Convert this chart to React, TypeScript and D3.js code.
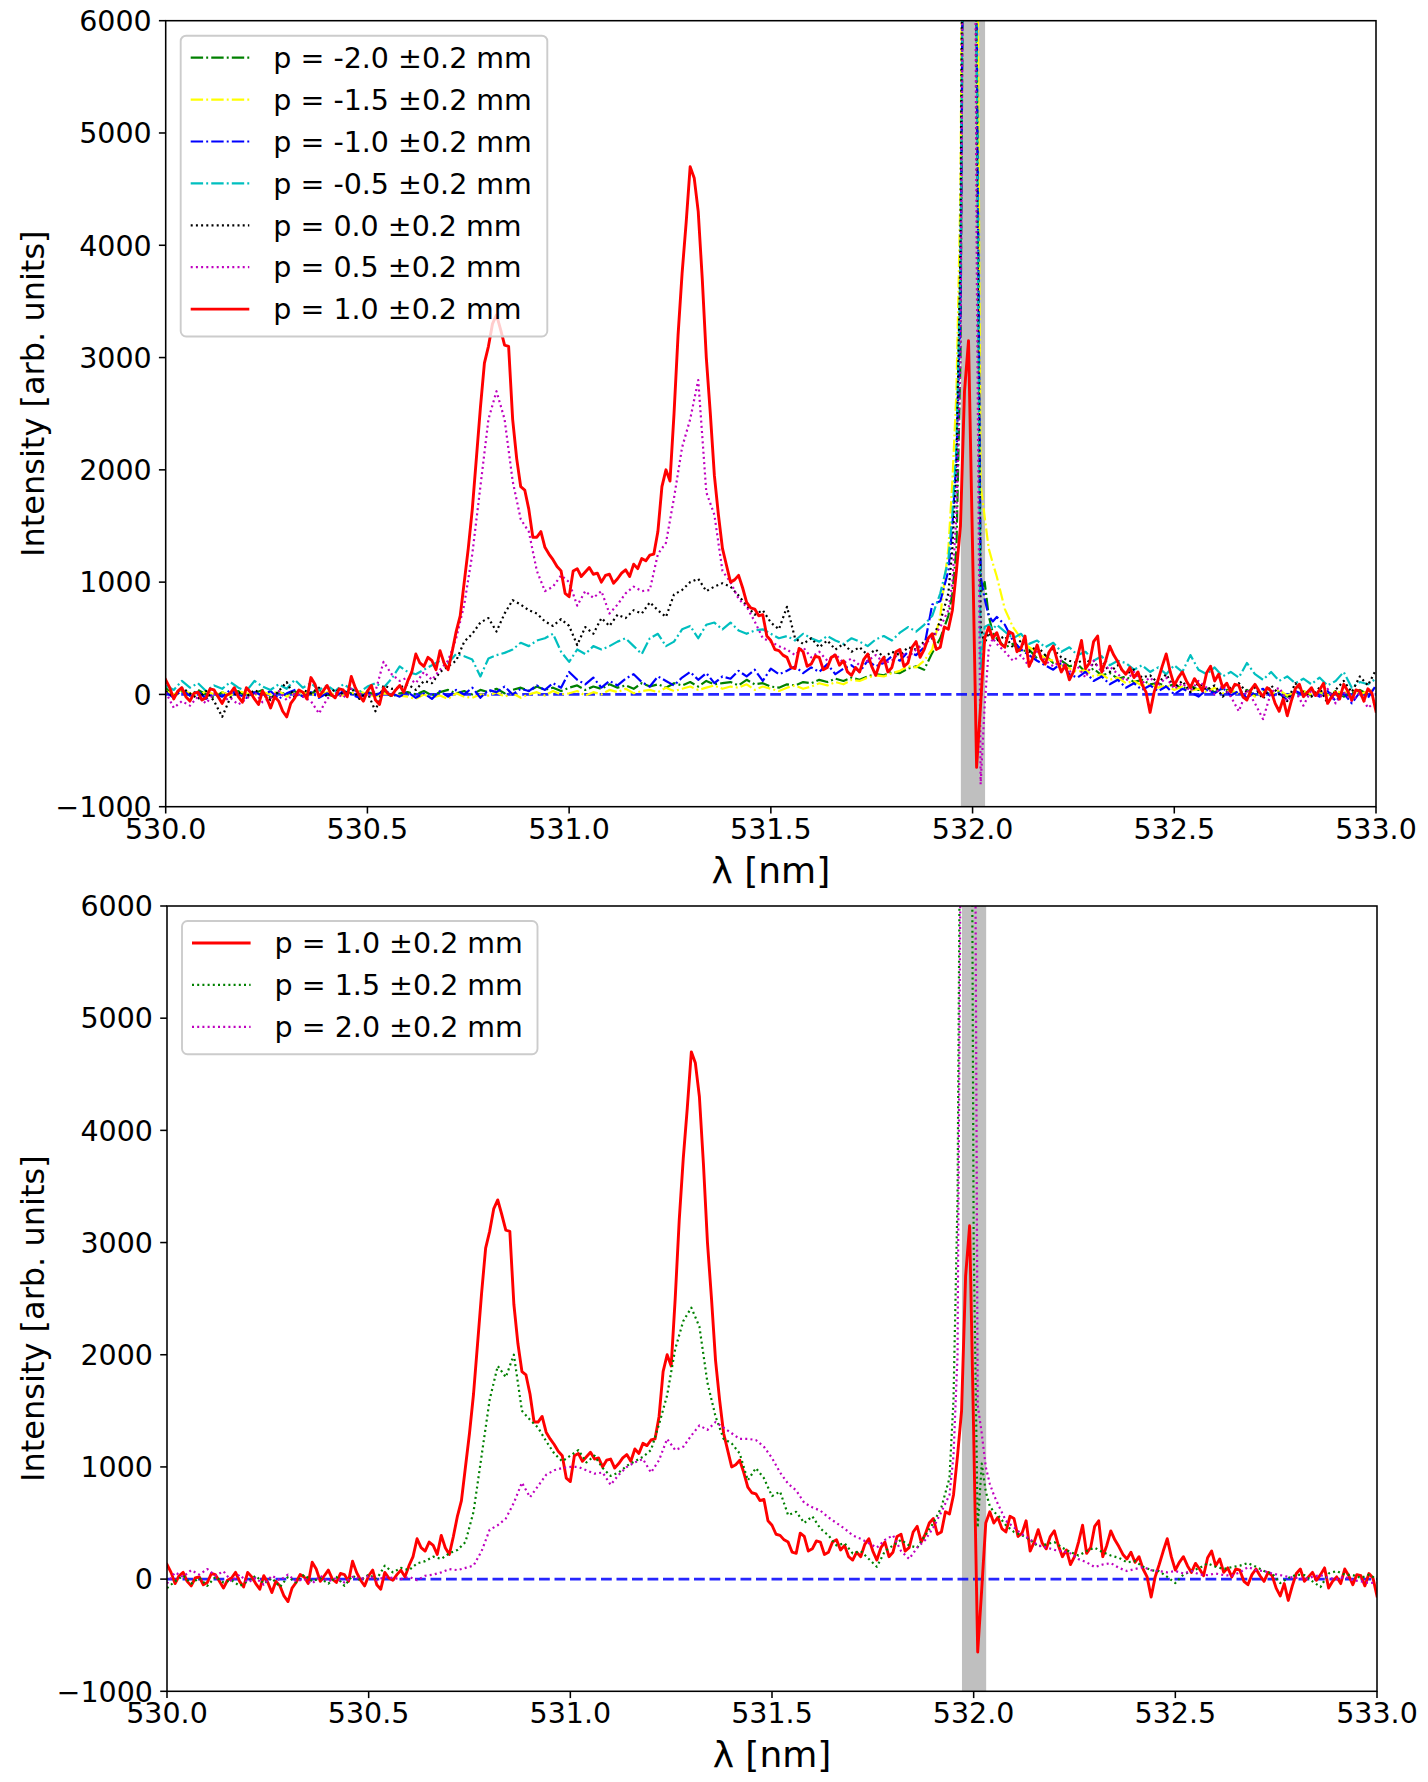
import React from 'react';
import * as d3 from 'd3';

// ---------- data ----------
// coarse wavelength grid shared by most spectra (finer around the 532 nm laser line)
const WL = [
  530.00, 530.02, 530.04, 530.06, 530.08, 530.10, 530.12, 530.14, 530.16, 530.18,
  530.20, 530.22, 530.24, 530.26, 530.28, 530.30, 530.32, 530.34, 530.36, 530.38,
  530.40, 530.42, 530.44, 530.46, 530.48, 530.50, 530.52, 530.54, 530.56, 530.58,
  530.60, 530.62, 530.64, 530.66, 530.68, 530.70, 530.72, 530.74, 530.76, 530.78,
  530.80, 530.82, 530.84, 530.86, 530.88, 530.90, 530.92, 530.94, 530.96, 530.98,
  531.00, 531.02, 531.04, 531.06, 531.08, 531.10, 531.12, 531.14, 531.16, 531.18,
  531.20, 531.22, 531.24, 531.26, 531.28, 531.30, 531.32, 531.34, 531.36, 531.38,
  531.40, 531.42, 531.44, 531.46, 531.48, 531.50, 531.52, 531.54, 531.56, 531.58,
  531.60, 531.62, 531.64, 531.66, 531.68, 531.70, 531.72, 531.74, 531.76, 531.78,
  531.80, 531.82, 531.84, 531.86, 531.88, 531.90, 531.92, 531.94,
  531.95, 531.96, 531.97, 531.98, 531.99, 532.00, 532.01, 532.02, 532.03, 532.04, 532.05,
  532.06, 532.08, 532.10, 532.12, 532.14, 532.16, 532.18, 532.20, 532.22, 532.24,
  532.26, 532.28, 532.30, 532.32, 532.34, 532.36, 532.38, 532.40, 532.42, 532.44,
  532.46, 532.48, 532.50, 532.52, 532.54, 532.56, 532.58, 532.60, 532.62, 532.64,
  532.66, 532.68, 532.70, 532.72, 532.74, 532.76, 532.78, 532.80, 532.82, 532.84,
  532.86, 532.88, 532.90, 532.92, 532.94, 532.96, 532.98, 533.00,
];

// fine wavelength grid used by the p = 1.0 mm spectrum
const WL_FINE = [
  530.00, 530.01, 530.02, 530.03, 530.04, 530.05, 530.06, 530.07, 530.08, 530.09,
  530.10, 530.11, 530.12, 530.13, 530.14, 530.15, 530.16, 530.17, 530.18, 530.19,
  530.20, 530.21, 530.22, 530.23, 530.24, 530.25, 530.26, 530.27, 530.28, 530.29,
  530.30, 530.31, 530.32, 530.33, 530.34, 530.35, 530.36, 530.37, 530.38, 530.39,
  530.40, 530.41, 530.42, 530.43, 530.44, 530.45, 530.46, 530.47, 530.48, 530.49,
  530.50, 530.51, 530.52, 530.53, 530.54, 530.55, 530.56, 530.57, 530.58, 530.59,
  530.60, 530.61, 530.62, 530.63, 530.64, 530.65, 530.66, 530.67, 530.68, 530.69,
  530.70, 530.71, 530.72, 530.73, 530.74, 530.75, 530.76, 530.77, 530.78, 530.79,
  530.80, 530.81, 530.82, 530.83, 530.84, 530.85, 530.86, 530.87, 530.88, 530.89,
  530.90, 530.91, 530.92, 530.93, 530.94, 530.95, 530.96, 530.97, 530.98, 530.99,
  531.00, 531.01, 531.02, 531.03, 531.04, 531.05, 531.06, 531.07, 531.08, 531.09,
  531.10, 531.11, 531.12, 531.13, 531.14, 531.15, 531.16, 531.17, 531.18, 531.19,
  531.20, 531.21, 531.22, 531.23, 531.24, 531.25, 531.26, 531.27, 531.28, 531.29,
  531.30, 531.31, 531.32, 531.33, 531.34, 531.35, 531.36, 531.37, 531.38, 531.39,
  531.40, 531.41, 531.42, 531.43, 531.44, 531.45, 531.46, 531.47, 531.48, 531.49,
  531.50, 531.51, 531.52, 531.53, 531.54, 531.55, 531.56, 531.57, 531.58, 531.59,
  531.60, 531.61, 531.62, 531.63, 531.64, 531.65, 531.66, 531.67, 531.68, 531.69,
  531.70, 531.71, 531.72, 531.73, 531.74, 531.75, 531.76, 531.77, 531.78, 531.79,
  531.80, 531.81, 531.82, 531.83, 531.84, 531.85, 531.86, 531.87, 531.88, 531.89,
  531.90, 531.91, 531.92, 531.93, 531.94, 531.95, 531.96, 531.97, 531.98, 531.99,
  532.00, 532.01, 532.02, 532.03, 532.04, 532.05, 532.06, 532.07, 532.08, 532.09,
  532.10, 532.11, 532.12, 532.13, 532.14, 532.15, 532.16, 532.17, 532.18, 532.19,
  532.20, 532.21, 532.22, 532.23, 532.24, 532.25, 532.26, 532.27, 532.28, 532.29,
  532.30, 532.31, 532.32, 532.33, 532.34, 532.35, 532.36, 532.37, 532.38, 532.39,
  532.40, 532.41, 532.42, 532.43, 532.44, 532.45, 532.46, 532.47, 532.48, 532.49,
  532.50, 532.51, 532.52, 532.53, 532.54, 532.55, 532.56, 532.57, 532.58, 532.59,
  532.60, 532.61, 532.62, 532.63, 532.64, 532.65, 532.66, 532.67, 532.68, 532.69,
  532.70, 532.71, 532.72, 532.73, 532.74, 532.75, 532.76, 532.77, 532.78, 532.79,
  532.80, 532.81, 532.82, 532.83, 532.84, 532.85, 532.86, 532.87, 532.88, 532.89,
  532.90, 532.91, 532.92, 532.93, 532.94, 532.95, 532.96, 532.97, 532.98, 532.99,
  533.00,
];

// p = -2.0 mm
const P_M20 = [
  60, -20, 30, -10, 40, 0, -30, 20, -10, 30,
  -20, 10, 40, -30, 20, 0, 30, -20, 10, 40,
  0, -20, 30, 10, -10, 20, 0, 30, -20, 10,
  20, 0, 30, -10, 20, 40, 10, 30, 0, 40,
  20, 50, 10, 40, 60, 30, 70, 40, 60, 30,
  60, 80, 40, 70, 50, 90, 60, 80, 50, 100,
  70, 90, 60, 100, 80, 110, 70, 120, 90, 100,
  110, 80, 130, 90, 100, 70, 60, 90, 80, 110,
  100, 130, 110, 140, 120, 150, 130, 160, 180, 170,
  200, 190, 230, 250, 220, 370, 500, 700,
  900, 1300, 3000, 9000, 15000, 12000, 6000, 900, 1000, 700, 550,
  500, 420, 450, 380, 400, 320, 350, 280, 300, 250,
  270, 200, 230, 170, 190, 140, 160, 110, 130, 90,
  100, 70, 90, 50, 80, 40, 60, 20, 50, 30,
  10, 40, -10, 30, 0, 20, -20, 10, 30, -10,
  20, 0, 30, -20, 10, 40, 0, 20,
];

// p = -1.5 mm
const P_M15 = [
  30, 0, 40, 10, -20, 30, 0, 20, -10, 30,
  10, -10, 20, 0, 30, -20, 10, 20, 0, -10,
  20, 0, -10, 10, 30, 0, -20, 10, 0, -10,
  -20, -40, 0, -30, -10, -40, 10, -20, -30, 0,
  -10, 20, -20, 10, -30, 0, 20, -10, 30, 0,
  10, 30, -10, 20, 0, 40, 20, 50, 10, 30,
  40, 20, 60, 30, 50, 70, 40, 60, 80, 50,
  70, 60, 90, 40, 70, 50, 30, 60, 80, 50,
  70, 100, 80, 110, 90, 130, 120, 150, 170, 160,
  190, 210, 250, 240, 300, 400, 700, 1300,
  1900, 2700, 4500, 10000, 16000, 13000, 8000, 1860, 1580, 1300, 1170,
  1050, 760, 600, 500, 420, 380, 320, 300, 260, 230,
  200, 220, 160, 180, 130, 150, 100, 120, 80, 90,
  60, 80, 40, 70, 30, 50, 20, 60, 10, 40,
  0, 30, -20, 20, 0, 40, -10, 20, 30, 0,
  20, -10, 30, 10, 40, 0, 30, 50,
];

// p = -1.0 mm
const P_M10 = [
  20, -30, 40, -10, 30, -40, 10, -20, 40, 0,
  -30, 20, -10, 30, -40, 10, 40, -20, 20, -30,
  10, -20, 30, 0, -30, 20, -10, 30, 10, -20,
  20, -30, 10, -40, 30, -20, 40, 0, 60, -30,
  40, 20, 70, 0, 50, 30, 80, 40, 100, 60,
  200, 130, 90, 150, 60, 120, 80, 140, 180, 110,
  70, 160, 120, 80, 150, 200, 130, 190, 100, 160,
  140, 210, 160, 220, 120, 230, 180, 210, 250, 190,
  240, 200, 270, 180, 230, 260, 200, 300, 250, 280,
  340, 300, 380, 350, 420, 800, 830, 1100,
  1500, 2100, 3400, 9000, 15000, 12000, 6000, 1050, 850, 700, 650,
  690, 620, 480, 400, 350, 300, 260, 220, 280, 180,
  150, 200, 120, 160, 90, 130, 60, 100, 40, 80,
  30, 70, 0, 50, 20, -20, 40, 10, 60, -10,
  30, -30, 20, 50, -20, 10, -50, 30, 0, 40,
  -20, 30, -60, 10, -80, 20, -30, 80,
];

// p = -0.5 mm
const P_M05 = [
  80, 40, 120, 60, 100, 30, 80, 50, 110, 60,
  30, 120, 70, 40, 90, 50, 130, 60, 100, 40,
  80, 30, 90, 50, 20, 70, 100, 60, 140, 250,
  200, 180, 220, 260, 300, 280, 360, 340, 310, 160,
  320, 350, 370, 400, 460, 430, 480, 500, 540, 380,
  290, 400, 360, 430, 400, 430, 470, 500, 430, 360,
  500, 540, 430, 470, 580, 610, 500, 620, 640, 580,
  640, 570, 540, 570, 580, 540, 500, 520, 480, 540,
  500, 470, 520, 480, 450, 500, 470, 430, 490, 520,
  480, 550, 600, 560, 620, 700, 900, 1200,
  1600, 2200, 3800, 9000, 15000, 12000, 6000, 230, 600, 620, 580,
  620, 560, 500, 540, 450, 480, 420, 460, 380, 420,
  350, 380, 300, 340, 260, 300, 280, 220, 260, 200,
  240, 180, 260, 200, 350, 220, 180, 240, 160, 200,
  150, 280, 180, 130, 200, 120, 160, 100, 140, 90,
  150, 80, 120, 200, 60, 110, 90, 140,
];

// p = 0.0 mm
const P_00 = [
  30, -20, 60, 10, -40, 30, -60, -200, -30, 20,
  -20, 40, 0, -50, 30, 110, -30, 40, 10, 60,
  -20, 50, 0, 60, -40, 20, -150, 80, 50, 60,
  90, 40, 120, 100, 200, 250, 300, 470, 540, 640,
  680, 560, 720, 840, 800, 750, 720, 650, 610, 670,
  610, 440, 600, 540, 680, 610, 710, 680, 750, 720,
  820, 750, 690, 890, 930, 1000, 1030, 920, 960, 990,
  960, 880, 790, 710, 750, 640, 580, 780, 500, 450,
  500, 420, 480, 400, 450, 380, 420, 350, 400, 330,
  380, 350, 420, 400, 470, 500, 650, 900,
  1300, 2000, 4000, 10000, 16000, 12000, 5000, 600, 450, 550, 500,
  480, 520, 420, 480, 380, 430, 350, 400, 330, 300,
  280, 320, 250, 300, 200, 260, 180, 220, 150, 170,
  100, 180, 60, 120, 20, 100, 40, 80, -20, 60,
  100, 20, 60, -40, 80, 0, -60, 100, 20, -20,
  60, -80, 40, 120, 20, 160, 80, 220,
];

// p = 0.5 mm
const P_05 = [
  20, -120, -60, -100, -20, -80, 10, -60, -30, -90,
  -40, 20, -70, -30, 30, -50, 10, -20, -60, -170,
  -40, 20, -30, 50, 10, -20, 30, 290, 180, 120,
  150, 100, 200, 130, 220, 300, 500, 800, 1250, 1850,
  2450, 2700, 2450, 1900, 1560, 1450, 1100, 920, 960, 1060,
  1000, 790, 920, 860, 920, 720, 800, 900, 960, 920,
  930, 1250, 1350, 1750, 2200, 2450, 2800, 1800, 1600, 1100,
  1000, 850, 780, 650, 500, 470, 430, 400, 350, 420,
  330, 380, 300, 360, 280, 320, 260, 300, 350, 280,
  300, 380, 330, 400, 450, 500, 600, 750,
  1000, 1600, 3000, 9000, 15000, 12000, 4000, -800, -100, 400, 500,
  450, 380, 300, 350, 250, 380, 300, 250, 300, 200,
  250, 150, 300, 200, 250, 180, 120, 200, 100, 150,
  80, 150, 50, 100, 30, 120, 60, 0, 80, -20,
  -150, 40, -80, -220, 20, 60, -60, 30, -100, 40,
  -30, 50, -80, 20, -60, 10, -120, -60,
];

// p = 1.0 mm (both panels), on WL_FINE
const P_10 = [
  130, 60, -40, 30, 60, -20, -60, 10, 20, -50,
  -30, 50, 40, -20, -80, -10, 10, 60, -20, -70,
  60, 20, -40, -90, 30, -30, -120, -20, -60, -150,
  -200, -80, -30, 40, 20, -40, 150, 90, -20, 30,
  80, 0, -30, 50, 40, -20, 160, 60, -10, -60,
  30, 80, -50, -90, 60, 10, -10, 40, 80, 20,
  120, 200, 360, 280, 250, 330, 300, 220, 390, 280,
  220, 380, 560, 700, 1000, 1300, 1650, 2100, 2550, 2950,
  3100, 3300, 3380, 3250, 3110, 3100, 2450, 2100, 1850, 1820,
  1650, 1400, 1400, 1450, 1310, 1250, 1200, 1140, 1100, 900,
  870, 1100, 1120, 1050, 1090, 1130, 1070, 1080, 1000, 1060,
  1070, 990, 1030, 1080, 1110, 1050, 1160, 1120, 1210, 1190,
  1240, 1250, 1450, 1850, 2000, 1900, 2500, 3200, 3750, 4200,
  4700, 4600, 4300, 3700, 3000, 2500, 1950, 1600, 1300, 1150,
  1000, 1020, 1060, 950, 820, 770, 760, 700, 710, 520,
  480, 400, 390, 350, 330, 240, 230, 410, 380, 250,
  270, 340, 330, 220, 240, 330, 350, 260, 300, 200,
  170, 240, 200, 310, 360, 250, 170, 280, 330, 200,
  240, 380, 400, 250, 280, 420, 470, 330, 400, 500,
  540, 400, 420, 600, 580, 750, 1100, 1500, 2700, 3150,
  1300, -650, -90, 500, 600, 500, 550, 450, 420, 560,
  540, 380, 410, 520, 250, 330, 440, 320, 270, 380,
  430, 300, 200, 260, 130, 200, 330, 480, 230, 280,
  470, 520, 200, 300, 430, 350, 290, 220, 180, 240,
  150, 200, 90, 20, -160, 20, 130, 250, 360, 200,
  80, 150, 200, 120, 60, 140, 90, 30, 190, 250,
  120, 180, 60, 100, 20, 90, 80, -20, -50, 40,
  90, 30, -20, 60, 30, -80, -150, -40, -190, -60,
  50, 90, -20, 20, 60, -10, 40, 100, -80, -20,
  20, -40, 90, 30, -50, 40, 30, -60, 50, 10,
  -150,
];

// p = 1.5 mm
const P_15 = [
  -80, -20, 30, -40, 10, -60, 20, -30, -10, -60,
  -20, 30, -40, 10, -70, 20, -30, 40, -20, 10,
  -40, 20, -60, 30, -10, 40, 0, 120, 60, 100,
  80, 140, 160, 200, 180, 230, 260, 330, 600, 1100,
  1600, 1900, 1800, 2000, 1500, 1420, 1350, 1230, 1120, 1050,
  1100, 1150, 1040, 1100, 990, 920, 950, 1010, 1050, 1090,
  1150, 1380, 1640, 2050, 2300, 2420, 2250, 1750, 1450, 1250,
  1210, 1120, 880, 990, 900, 740, 780, 570, 600, 500,
  560, 450, 390, 300, 320, 230, 250, 180, 110, 250,
  300, 350, 300, 280, 390, 500, 640, 900,
  1600, 3400, 9000, 15000, 12000, 3000, 460, 1030, 780, 650, 600,
  570, 480, 420, 390, 350, 290, 310, 330, 280, 240,
  210, 250, 280, 240, 210, 190, 150, 160, 110, 80,
  70, 20, -35, 40, 70, 100, 140, 110, 90, 107,
  120, 143, 110, 72, 50, -35, 10, 40, 36, -20,
  -70, 50, 72, 40, 36, 10, 40, 0,
];

// p = 2.0 mm
const P_20 = [
  -40, 60, 20, 80, 40, 90, 30, 70, -20, 40,
  -30, 10, -50, 30, -10, 40, -20, 0, -40, 30,
  -20, 10, -30, 20, 0, 30, -10, 20, 10, 0,
  20, -10, 30, 40, 60, 90, 80, 100, 120, 250,
  440, 480, 540, 680, 860, 730, 830, 930, 970, 990,
  1000, 1000, 970, 940, 950, 840, 930, 1000, 1040, 1070,
  950, 1060, 1250, 1150, 1180, 1280, 1370, 1330, 1400, 1350,
  1300, 1250, 1250, 1240, 1180, 1080, 950, 850, 790, 680,
  640, 610, 550, 500, 450, 390, 360, 320, 280, 350,
  390, 250, 180, 280, 350, 460, 600, 750,
  1100, 2000, 8000, 14000, 16000, 10000, 1550, 1300, 1000, 850, 750,
  670, 520, 460, 400, 354, 300, 283, 260, 248, 230,
  178, 150, 107, 130, 143, 100, 72, 90, 107, 80,
  72, 60, 72, 50, 72, 40, 36, 50, 36, 30,
  60, 107, 80, 72, 50, 36, 20, 10, 0, 20,
  36, 10, 0, 20, -10, -20, -35, -30,
];

const ZERO_X = [530, 533];
const ZERO_Y = [0, 0];
const BAND = [531.971, 532.031];

const X_DOMAIN = [530, 533];
const Y_DOMAIN = [-1000, 6000];
const X_TICKS = [530.0, 530.5, 531.0, 531.5, 532.0, 532.5, 533.0];
const Y_TICKS = [-1000, 0, 1000, 2000, 3000, 4000, 5000, 6000];

const TOP_LABELS = [
  'p = -2.0 ±0.2 mm', 'p = -1.5 ±0.2 mm', 'p = -1.0 ±0.2 mm', 'p = -0.5 ±0.2 mm',
  'p = 0.0 ±0.2 mm', 'p = 0.5 ±0.2 mm', 'p = 1.0 ±0.2 mm',
];
const BOTTOM_LABELS = ['p = 1.0 ±0.2 mm', 'p = 1.5 ±0.2 mm', 'p = 2.0 ±0.2 mm'];

// ---------- styling ----------
type LineStyle = 'solid' | 'dashdot' | 'dotted';
const STYLES: Record<LineStyle, { w: number; dash?: string }> = {
  solid: { w: 2.9 },
  dashdot: { w: 2.2, dash: '12.4 3.1 1.95 3.1' },
  dotted: { w: 2.2, dash: '2 3.2' },
};

interface Series { label: string; values: number[]; xs: number[]; color: string; style: LineStyle }

const TOP_SERIES: Series[] = [
  { label: TOP_LABELS[0], values: P_M20, xs: WL, color: '#008000', style: 'dashdot' },
  { label: TOP_LABELS[1], values: P_M15, xs: WL, color: '#ffff00', style: 'dashdot' },
  { label: TOP_LABELS[2], values: P_M10, xs: WL, color: '#0000ff', style: 'dashdot' },
  { label: TOP_LABELS[3], values: P_M05, xs: WL, color: '#00bfbf', style: 'dashdot' },
  { label: TOP_LABELS[4], values: P_00, xs: WL, color: '#000000', style: 'dotted' },
  { label: TOP_LABELS[5], values: P_05, xs: WL, color: '#bf00bf', style: 'dotted' },
  { label: TOP_LABELS[6], values: P_10, xs: WL_FINE, color: '#ff0000', style: 'solid' },
];
const BOTTOM_SERIES: Series[] = [
  { label: BOTTOM_LABELS[0], values: P_10, xs: WL_FINE, color: '#ff0000', style: 'solid' },
  { label: BOTTOM_LABELS[1], values: P_15, xs: WL, color: '#008000', style: 'dotted' },
  { label: BOTTOM_LABELS[2], values: P_20, xs: WL, color: '#bf00bf', style: 'dotted' },
];

const FONT = "'DejaVu Sans', sans-serif";
const TICK_FS = 28.5;
const LABEL_FS = 32;
const XLABEL_FS = 36;

interface Box { left: number; right: number; top: number; bottom: number; ylabelShift: number }

const TOP_BOX: Box = { left: 165.7, right: 1376, top: 20.7, bottom: 806.7, ylabelShift: -20 };
const BOT_BOX: Box = { left: 167, right: 1377, top: 906, bottom: 1691.3, ylabelShift: 20 };

function fmtY(v: number) {
  return v < 0 ? '\u2212' + Math.abs(v) : String(v);
}

function Panel({ box, series, id, legendW }: { box: Box; series: Series[]; id: string; legendW: number }) {
  const x = d3.scaleLinear().domain(X_DOMAIN).range([box.left, box.right]);
  const y = d3.scaleLinear().domain(Y_DOMAIN).range([box.bottom, box.top]);
  const makeLine = (xs: number[]) =>
    d3
      .line<number>()
      .defined((_, i) => i < xs.length)
      .x((_, i) => x(xs[i]))
      .y((d) => y(d));
  const zeroGen = makeLine(ZERO_X);

  const lgX = box.left + 15;
  const lgY = box.top + 15;
  const rowH = 41.9;
  const lgH = 22 + (series.length - 1) * rowH + 27.4;
  const tickLen = 6.8;

  return (
    <g>
      <defs>
        <clipPath id={id}>
          <rect x={box.left} y={box.top} width={box.right - box.left} height={box.bottom - box.top} />
        </clipPath>
      </defs>
      <g clipPath={`url(#${id})`}>
        <rect
          x={x(BAND[0])}
          y={box.top}
          width={x(BAND[1]) - x(BAND[0])}
          height={box.bottom - box.top}
          fill="#808080"
          fillOpacity={0.5}
        />
        <path
          d={zeroGen(ZERO_Y) || ''}
          fill="none"
          stroke="#0000ff"
          strokeOpacity={0.85}
          strokeWidth={2.9}
          strokeDasharray="10.8 4.7"
        />
        {series.map((s, k) => {
          const st = STYLES[s.style];
          return (
            <path
              key={k}
              d={makeLine(s.xs)(s.values) || ''}
              fill="none"
              stroke={s.color}
              strokeWidth={st.w}
              strokeDasharray={st.dash}
              strokeLinejoin="round"
              strokeLinecap={s.style === 'solid' ? 'square' : 'butt'}
            />
          );
        })}
      </g>
      {/* spines */}
      <rect
        x={box.left}
        y={box.top}
        width={box.right - box.left}
        height={box.bottom - box.top}
        fill="none"
        stroke="#000"
        strokeWidth={1.55}
      />
      {/* x ticks */}
      {X_TICKS.map((t) => (
        <g key={'x' + t}>
          <line x1={x(t)} x2={x(t)} y1={box.bottom} y2={box.bottom + tickLen} stroke="#000" strokeWidth={1.55} />
          <text
            x={x(t)}
            y={box.bottom + 32}
            textAnchor="middle"
            fontFamily={FONT}
            fontSize={TICK_FS}
            fill="#000"
          >
            {t.toFixed(1)}
          </text>
        </g>
      ))}
      {/* y ticks */}
      {Y_TICKS.map((t) => (
        <g key={'y' + t}>
          <line x1={box.left - tickLen} x2={box.left} y1={y(t)} y2={y(t)} stroke="#000" strokeWidth={1.55} />
          <text
            x={box.left - 14}
            y={y(t)}
            dy="0.36em"
            textAnchor="end"
            fontFamily={FONT}
            fontSize={TICK_FS}
            fill="#000"
          >
            {fmtY(t)}
          </text>
        </g>
      ))}
      {/* axis labels */}
      <text
        x={(box.left + box.right) / 2}
        y={box.bottom + 76}
        textAnchor="middle"
        fontFamily={FONT}
        fontSize={XLABEL_FS}
        fill="#000"
      >
        λ [nm]
      </text>
      <text
        transform={`translate(44, ${(box.top + box.bottom) / 2 + box.ylabelShift}) rotate(-90)`}
        textAnchor="middle"
        fontFamily={FONT}
        fontSize={LABEL_FS}
        fill="#000"
      >
        Intensity [arb. units]
      </text>
      {/* legend */}
      <g>
        <rect
          x={lgX}
          y={lgY}
          width={legendW}
          height={lgH}
          rx={5.4}
          ry={5.4}
          fill="#ffffff"
          fillOpacity={0.8}
          stroke="#cccccc"
          strokeWidth={1.9}
        />
        {series.map((s, k) => {
          const cy = lgY + 22 + k * rowH;
          const st = STYLES[s.style];
          return (
            <g key={'lg' + k}>
              <line
                x1={lgX + 10}
                x2={lgX + 68.6}
                y1={cy}
                y2={cy}
                stroke={s.color}
                strokeWidth={st.w}
                strokeDasharray={st.dash}
              />
              <text x={lgX + 92.6} y={cy} dy="0.36em" fontFamily={FONT} fontSize={TICK_FS} fill="#000">
                {s.label}
              </text>
            </g>
          );
        })}
      </g>
    </g>
  );
}

export default function App() {
  return (
    <svg
      width={1428}
      height={1782}
      viewBox="0 0 1428 1782"
      style={{ position: 'absolute', left: 0, top: 0, background: '#fff' }}
    >
      <rect x={0} y={0} width={1428} height={1782} fill="#fff" />
      <Panel box={TOP_BOX} series={TOP_SERIES} id="clip-top" legendW={366.6} />
      <Panel box={BOT_BOX} series={BOTTOM_SERIES} id="clip-bottom" legendW={355.5} />
    </svg>
  );
}
